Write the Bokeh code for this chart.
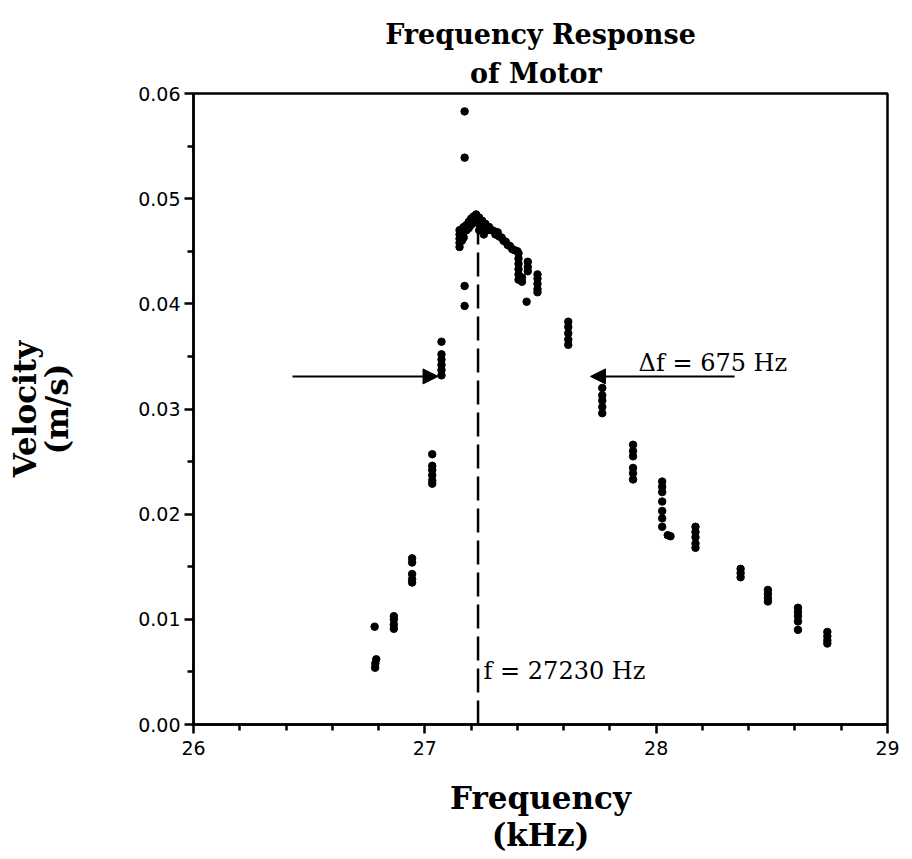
import math
from bokeh.plotting import figure
from bokeh.models import Range1d, FixedTicker, PrintfTickFormatter, Label, Arrow, NormalHead, ColumnDataSource, Title
from bokeh.embed import file_html
from bokeh.resources import INLINE

# ---- data (frequency in kHz, velocity in m/s) ----
freq_low = [26.783, 26.790, 26.786, 26.785,
            26.866, 26.866, 26.866, 26.866,
            26.945, 26.945, 26.945, 26.945, 26.945,
            27.032, 27.032, 27.032, 27.032, 27.032, 27.032,
            27.072, 27.072, 27.072, 27.072, 27.072, 27.072]
vel_low = [0.0093, 0.0062, 0.0058, 0.0054,
           0.0103, 0.0100, 0.0095, 0.0091,
           0.0158, 0.0154, 0.0143, 0.0138, 0.0135,
           0.0257, 0.0246, 0.0242, 0.0237, 0.0232, 0.0229,
           0.0364, 0.0352, 0.0347, 0.0342, 0.0337, 0.0332]

freq_peak = [27.172, 27.172, 27.172, 27.172,
             27.150, 27.150, 27.150, 27.150, 27.150,
             27.160, 27.160, 27.160, 27.168, 27.168, 27.168,
             27.180, 27.180, 27.190, 27.190, 27.200, 27.200,
             27.210, 27.210, 27.222, 27.222, 27.235, 27.235, 27.235,
             27.248, 27.248, 27.255, 27.262, 27.270, 27.278, 27.290,
             27.300, 27.305, 27.315, 27.322, 27.332, 27.340, 27.350,
             27.358, 27.368, 27.378, 27.388, 27.400]
vel_peak = [0.0583, 0.0539, 0.0417, 0.0398,
            0.0470, 0.0466, 0.0462, 0.0458, 0.0454,
            0.0471, 0.0465, 0.0460, 0.0473, 0.0468, 0.0463,
            0.0475, 0.0470, 0.0478, 0.0472, 0.0481, 0.0475,
            0.0483, 0.0477, 0.0485, 0.0479, 0.0482, 0.0476, 0.0470,
            0.0479, 0.0473, 0.0466, 0.0476, 0.0470, 0.0473, 0.0470,
            0.0469, 0.0466, 0.0468, 0.0464, 0.0463, 0.0460, 0.0459,
            0.0456, 0.0455, 0.0452, 0.0451, 0.0450]

freq_high = [27.405, 27.405, 27.405, 27.405, 27.405, 27.405, 27.420, 27.420,
             27.445, 27.445, 27.445, 27.440,
             27.487, 27.487, 27.487, 27.487, 27.487,
             27.620, 27.620, 27.620, 27.620, 27.620,
             27.767, 27.767, 27.767, 27.767, 27.767,
             27.900, 27.900, 27.900, 27.900, 27.900, 27.900,
             28.026, 28.026, 28.026, 28.026, 28.026, 28.026, 28.026,
             28.050, 28.062,
             28.170, 28.170, 28.170, 28.170, 28.170,
             28.365, 28.365, 28.365,
             28.483, 28.483, 28.483, 28.483,
             28.613, 28.613, 28.613, 28.613, 28.613,
             28.740, 28.740, 28.740, 28.740]
vel_high = [0.0448, 0.0443, 0.0438, 0.0433, 0.0428, 0.0423, 0.0425, 0.0421,
            0.0440, 0.0435, 0.0431, 0.0402,
            0.0428, 0.0424, 0.0419, 0.0414, 0.0411,
            0.0383, 0.0378, 0.0372, 0.0366, 0.0361,
            0.0320, 0.0313, 0.0308, 0.0302, 0.0296,
            0.0266, 0.0260, 0.0255, 0.0244, 0.0239, 0.0233,
            0.0231, 0.0226, 0.0221, 0.0212, 0.0203, 0.0196, 0.0188,
            0.0180, 0.0179,
            0.0188, 0.0183, 0.0178, 0.0172, 0.0168,
            0.0148, 0.0144, 0.0140,
            0.0128, 0.0124, 0.0120, 0.0117,
            0.0111, 0.0107, 0.0103, 0.0098, 0.0090,
            0.0088, 0.0084, 0.0080, 0.0077]

x_ticks = [26, 27, 28, 29]
x_minor = [26.2, 26.4, 26.6, 26.8, 27.2, 27.4, 27.6, 27.8, 28.2, 28.4, 28.6, 28.8]
y_ticks = [0.00, 0.01, 0.02, 0.03, 0.04, 0.05, 0.06]
y_minor = [0.005, 0.015, 0.025, 0.035, 0.045, 0.055]

resonance_khz = 27.23
resonance_vel = 0.0470
half_power_vel = 0.0331
arrow_left = (26.428, 27.057)
arrow_right = (28.339, 27.716)

freq = freq_low + freq_peak + freq_high
vel = vel_low + vel_peak + vel_high
src = ColumnDataSource(dict(f=freq, v=vel))

serif = "DejaVu Serif"

p = figure(width=900, height=856, x_range=Range1d(26, 29), y_range=Range1d(0, 0.06),
           output_backend="svg", toolbar_location=None,
           min_border_left=193, min_border_right=13, min_border_top=93, min_border_bottom=128,
           title="Frequency Response")
p.title.align = "center"
p.title.text_font = serif
p.title.text_font_size = "27px"
p.title.text_font_style = "bold"
p.title.text_color = "black"
p.title.standoff = 2
p.add_layout(Title(text="of  Motor", align="center", text_font=serif,
                   text_font_size="27px", text_font_style="bold", text_color="black",
                   standoff=10), "above")

p.grid.visible = False
p.outline_line_color = "black"
p.outline_line_width = 2.5
p.background_fill_color = "white"
p.border_fill_color = "white"

p.xaxis.ticker = FixedTicker(ticks=x_ticks, minor_ticks=x_minor)
p.yaxis.ticker = FixedTicker(ticks=y_ticks, minor_ticks=y_minor)
p.yaxis.formatter = PrintfTickFormatter(format="%.2f")
for ax in (p.xaxis[0], p.yaxis[0]):
    ax.axis_line_width = 2.5
    ax.axis_line_color = "black"
    ax.major_tick_line_width = 2.5
    ax.minor_tick_line_width = 2.5
    ax.major_tick_in = 0
    ax.major_tick_out = 9
    ax.minor_tick_in = 0
    ax.minor_tick_out = 6
    ax.major_label_text_font = "DejaVu Sans"
    ax.major_label_text_font_size = "19px"
    ax.major_label_text_color = "black"
    ax.axis_label_text_font = serif
    ax.axis_label_text_font_style = "bold"
    ax.axis_label_text_font_size = "31px"
    ax.axis_label_text_color = "black"
p.xaxis.major_label_standoff = 7
p.yaxis.major_label_standoff = 4

p.xaxis.axis_label = "Frequency\n(kHz)"
p.xaxis.axis_label_standoff = 22
p.xaxis.axis_label_text_line_height = 1.05
p.yaxis.axis_label = "Velocity\n(m/s)"
p.yaxis.axis_label_standoff = 60
p.yaxis.axis_label_text_line_height = 0.9

# dashed resonance line
p.segment(x0=[resonance_khz], y0=[0], x1=[resonance_khz], y1=[resonance_vel],
          line_color="black", line_width=2.5, line_dash="24 8")

p.scatter("f", "v", source=src, size=7.5, color="black")

# half-power arrows
for a in (arrow_left, arrow_right):
    p.add_layout(Arrow(x_start=a[0], y_start=half_power_vel, x_end=a[1], y_end=half_power_vel,
                       line_width=2, line_color="black",
                       end=NormalHead(size=15, fill_color="black", line_color="black")))

def lab(x, y, text, size):
    p.add_layout(Label(x=x, y=y, text=text, text_font=serif, text_font_size=size,
                       text_align="left", text_baseline="alphabetic", text_color="black"))

lab(27.924, 0.0344, "\u0394f = 675 Hz", "24px")
lab(27.254, 0.0051, "f = 27230 Hz", "24px")

open("out.html", "w").write(file_html(p, INLINE))
